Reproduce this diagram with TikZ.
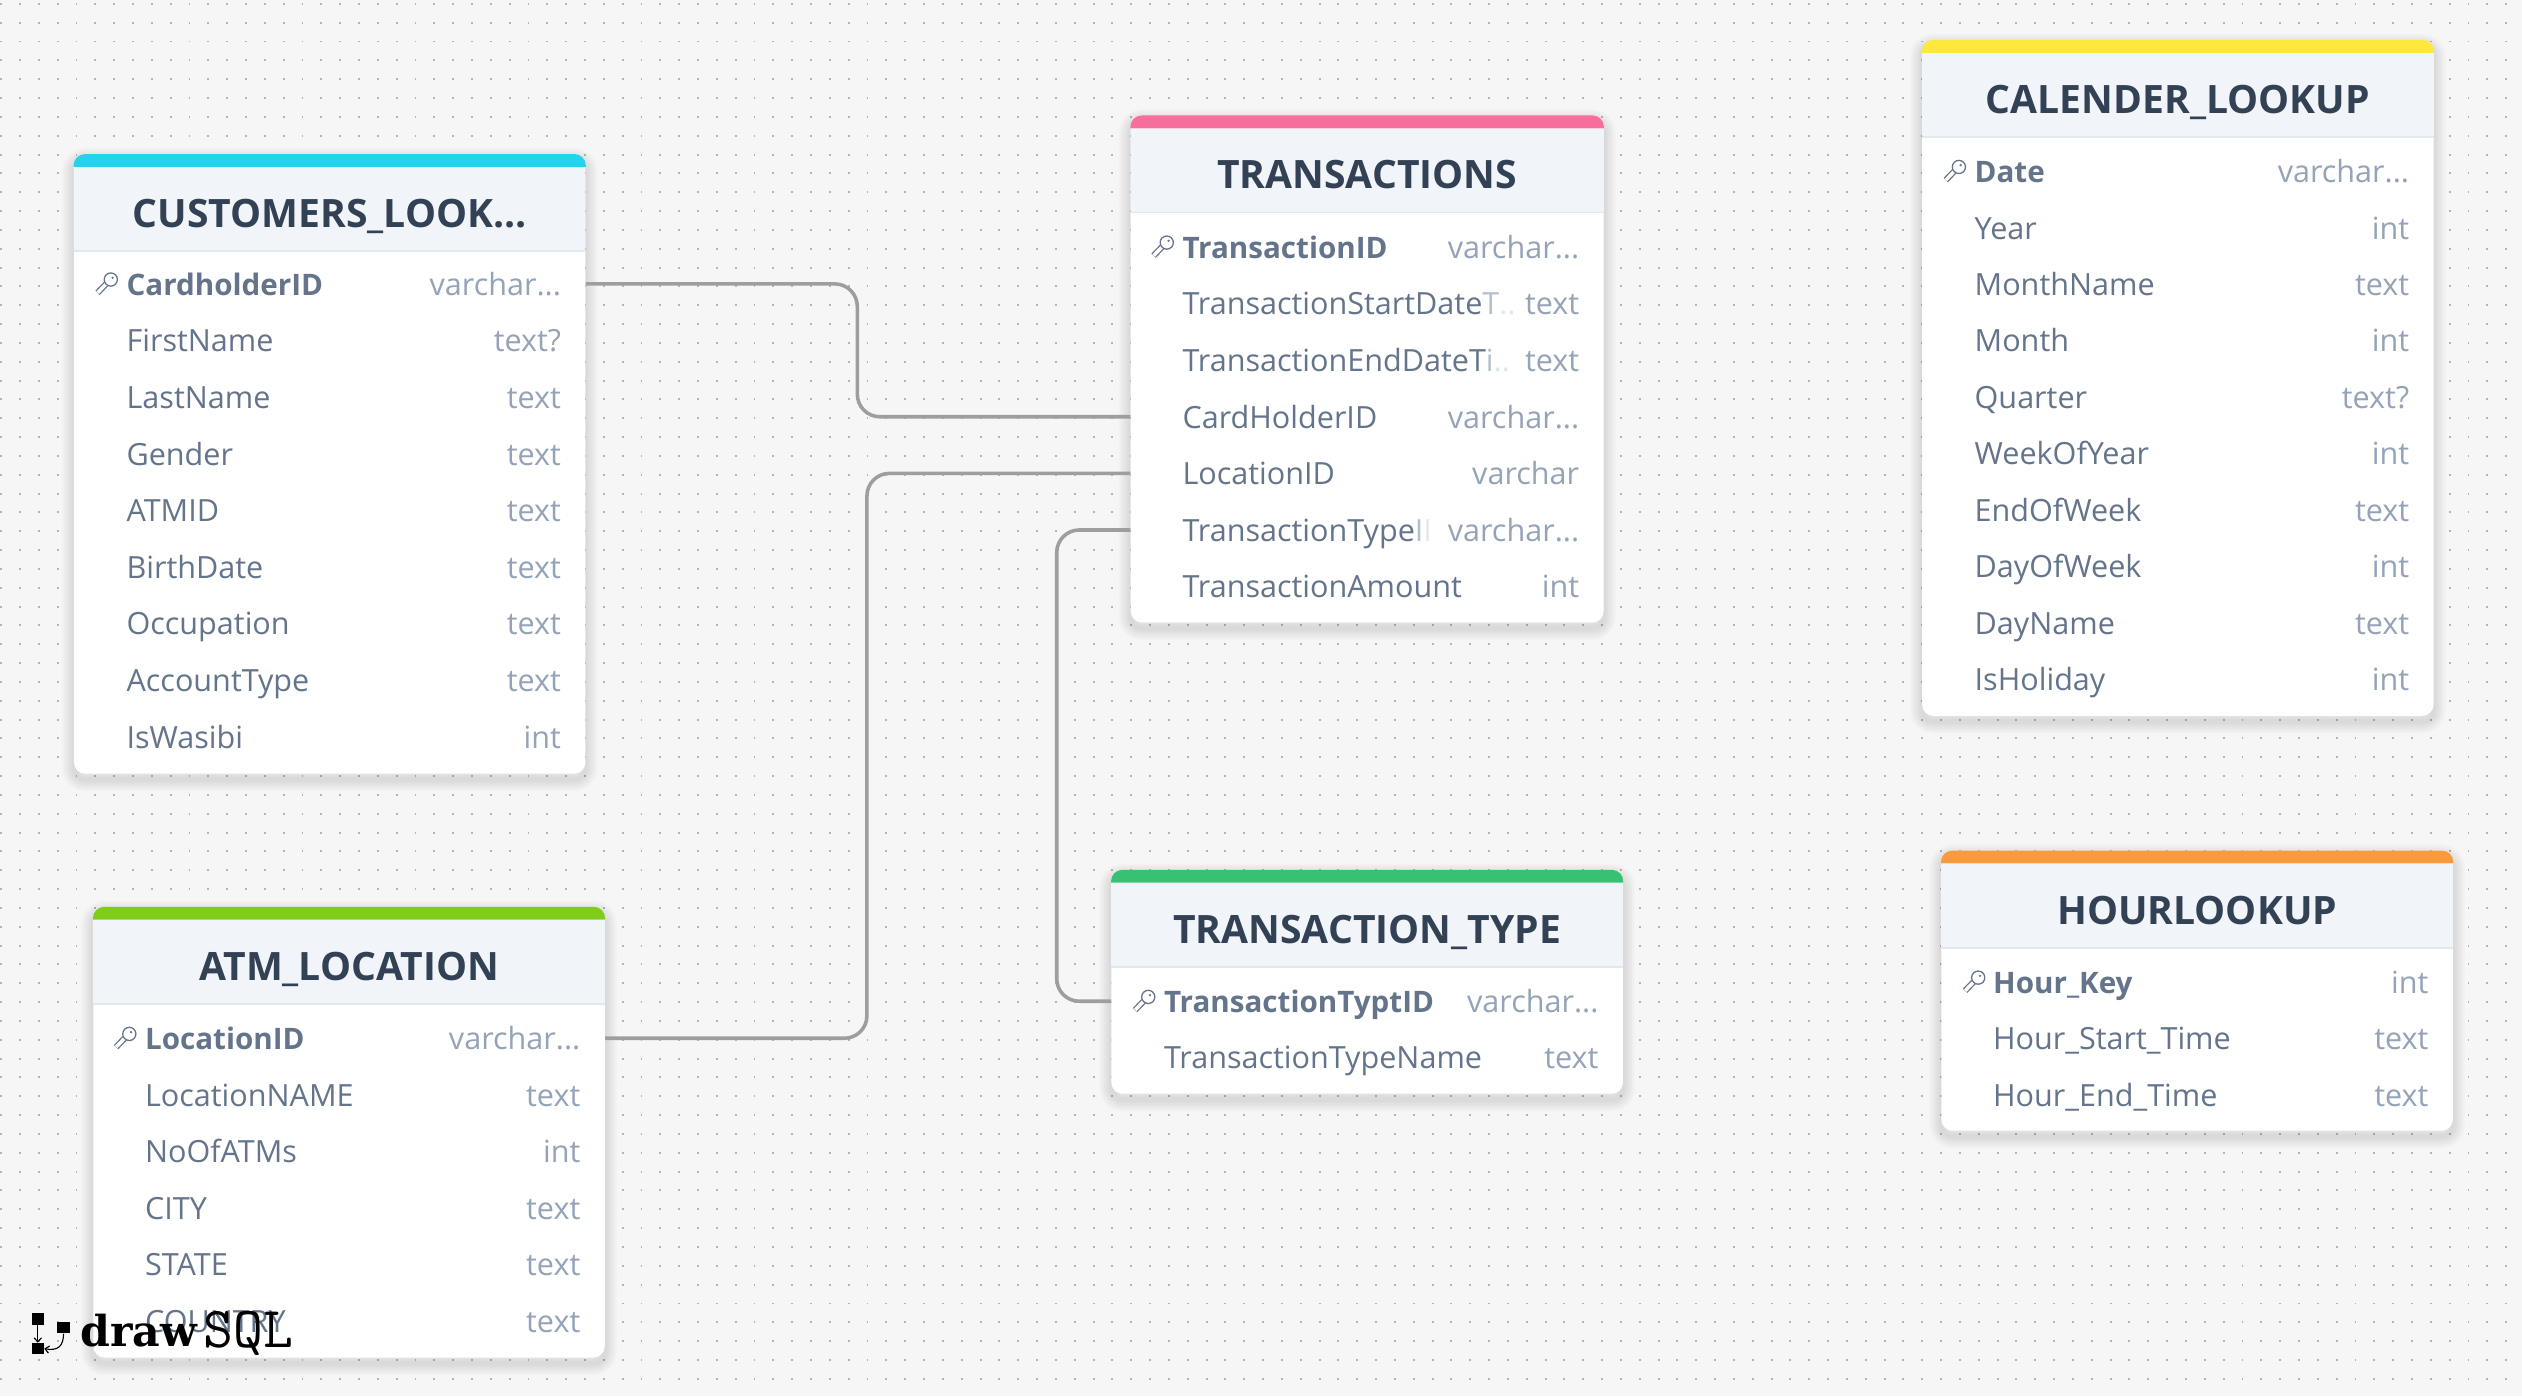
\documentclass[tikz,border=0pt]{standalone}
\usepackage{fontspec}
\setmainfont{Open Sans}
\setmonofont{Latin Modern Mono}
\newfontfamily\logofont{DejaVu Serif}
\usetikzlibrary{arrows, arrows.meta}

\definecolor{canvas}{HTML}{F6F6F6}
\definecolor{griddot}{HTML}{B4B4B4}
\definecolor{headfill}{HTML}{F1F5F9}
\definecolor{headline}{HTML}{E2E8F0}
\definecolor{titletext}{HTML}{334155}
\definecolor{nametext}{HTML}{64748B}
\definecolor{typetext}{HTML}{94A3B8}
\definecolor{fadeone}{HTML}{B4BFCC}
\definecolor{fadetwo}{HTML}{E2E7EC}
\definecolor{relline}{HTML}{9E9E9E}
\definecolor{barcust}{HTML}{22D3EE}
\definecolor{bartrans}{HTML}{F76D9C}
\definecolor{barcal}{HTML}{FFE83C}
\definecolor{baratm}{HTML}{7FCC1A}
\definecolor{bartype}{HTML}{38C172}
\definecolor{barhour}{HTML}{FA9A3F}

\tikzset{
  griddots/.style={griddot, line width=1.2pt, dash pattern=on 1.2pt off 10.51pt},
  softedge/.style={preaction={draw=black, draw opacity=0.014, line width=#1, transform canvas={yshift=-3.5pt}}},
  tablebody/.style={rectangle, fill=white, rounded corners=7pt, inner sep=0pt, minimum width=318pt,
    softedge=15pt, softedge=13pt, softedge=11pt, softedge=9pt, softedge=7pt, softedge=5pt, softedge=3pt},
  tablehead/.style={rectangle, fill=headfill, inner sep=0pt, minimum width=318pt, minimum height=52pt,
    text height=23pt, text depth=0pt, text=titletext, font=\fontsize{24.3}{24}\selectfont\bfseries},
  headrule/.style={headline, line width=1pt},
  rowname/.style={anchor=west, inner sep=0pt, text height=16pt, text depth=2pt, text=nametext, font=\fontsize{19}{19}\selectfont},
  rowkey/.style={rowname, font=\fontsize{18.4}{19}\selectfont\bfseries},
  rowtype/.style={anchor=east, inner sep=0pt, text height=16pt, text depth=2pt, text=typetext, font=\fontsize{19}{19}\selectfont},
  relation/.style={relline, line width=2.2pt, rounded corners=14pt},
  logosquare/.style={rectangle, fill=black, inner sep=0pt, minimum width=7.6pt, minimum height=7pt},
  logoarrow/.style={black, line width=0.7pt, -{Straight Barb[length=2.5pt, width=4.5pt]}},
  keyicon/.pic={
    \draw[nametext, line width=3.8pt] (-1,0) -- (-6.3,5.5);
    \draw[white, line width=2.2pt] (-1,0) -- (-6.2,5.4);
    \draw[nametext, line width=0.8pt, fill=white] (1.9,-2.7) circle (4.1pt);
    \fill[nametext] (3,-3.8) circle (0.8pt);
  }
}

\begin{document}
\begin{tikzpicture}[x=1pt, y=-1pt]
      \useasboundingbox (0,0) rectangle (1568,868);
      \fill[canvas] (0,0) rectangle (1568,868);
      \foreach \k in {0,...,73} {
        \draw[griddots] (0.1,{2.4+11.71*\k}) -- (1568,{2.4+11.71*\k});
      }

      % table bodies
      \node[tablebody, minimum height=385pt] (cBody) at (205,288.5) {};
      \node[tablebody, minimum height=315pt, minimum width=294pt] (tBody) at (850,229.5) {};
      \node[tablebody, minimum height=420pt] (kBody) at (1354,235) {};
      \node[tablebody, minimum height=280pt] (aBody) at (217,704) {};
      \node[tablebody, minimum height=139pt] (yBody) at (850,610.5) {};
      \node[tablebody, minimum height=174pt] (hBody) at (1366,616) {};

      % headers
      \node[tablehead] (cTitle) at (205,130) {CUSTOMERS\_LOOK...};
      \node[tablehead, minimum width=294pt] (tTitle) at (850,106) {TRANSACTIONS};
      \node[tablehead] (kTitle) at (1354,59) {CALENDER\_LOOKUP};
      \node[tablehead] (aTitle) at (217,598) {ATM\_LOCATION};
      \node[tablehead] (yTitle) at (850,575) {TRANSACTION\_TYPE};
      \node[tablehead] (hTitle) at (1366,563) {HOURLOOKUP};

      \draw[headrule] (cTitle.south west) -- (cTitle.south east);
      \draw[headrule] (tTitle.south west) -- (tTitle.south east);
      \draw[headrule] (kTitle.south west) -- (kTitle.south east);
      \draw[headrule] (aTitle.south west) -- (aTitle.south east);
      \draw[headrule] (yTitle.south west) -- (yTitle.south east);
      \draw[headrule] (hTitle.south west) -- (hTitle.south east);

      \fill[barcust] (cTitle.north west) [rounded corners=7pt] -- (cBody.north west) -- (cBody.north east) [sharp corners] -- (cTitle.north east) -- cycle;
      \fill[bartrans] (tTitle.north west) [rounded corners=7pt] -- (tBody.north west) -- (tBody.north east) [sharp corners] -- (tTitle.north east) -- cycle;
      \fill[barcal] (kTitle.north west) [rounded corners=7pt] -- (kBody.north west) -- (kBody.north east) [sharp corners] -- (kTitle.north east) -- cycle;
      \fill[baratm] (aTitle.north west) [rounded corners=7pt] -- (aBody.north west) -- (aBody.north east) [sharp corners] -- (aTitle.north east) -- cycle;
      \fill[bartype] (yTitle.north west) [rounded corners=7pt] -- (yBody.north west) -- (yBody.north east) [sharp corners] -- (yTitle.north east) -- cycle;
      \fill[barhour] (hTitle.north west) [rounded corners=7pt] -- (hBody.north west) -- (hBody.north east) [sharp corners] -- (hTitle.north east) -- cycle;

      % CUSTOMERS_LOOK...
      \pic at (67,176.5) {keyicon};
      \node[rowkey] (c1) at (78.5,176.5) {CardholderID};
      \node[rowtype] (c1t) at (349,176.5) {varchar...};
      \node[rowname] (c2) at (78.5,211.7) {FirstName};
      \node[rowtype] (c2t) at (349,211.7) {text?};
      \node[rowname] (c3) at (78.5,246.9) {LastName};
      \node[rowtype] (c3t) at (349,246.9) {text};
      \node[rowname] (c4) at (78.5,282.1) {Gender};
      \node[rowtype] (c4t) at (349,282.1) {text};
      \node[rowname] (c5) at (78.5,317.3) {ATMID};
      \node[rowtype] (c5t) at (349,317.3) {text};
      \node[rowname] (c6) at (78.5,352.5) {BirthDate};
      \node[rowtype] (c6t) at (349,352.5) {text};
      \node[rowname] (c7) at (78.5,387.7) {Occupation};
      \node[rowtype] (c7t) at (349,387.7) {text};
      \node[rowname] (c8) at (78.5,422.9) {AccountType};
      \node[rowtype] (c8t) at (349,422.9) {text};
      \node[rowname] (c9) at (78.5,458.1) {IsWasibi};
      \node[rowtype] (c9t) at (349,458.1) {int};

      % TRANSACTIONS
      \pic at (723.5,153.5) {keyicon};
      \node[rowkey] (t1) at (735,153.5) {TransactionID};
      \node[rowtype] (t1t) at (982,153.5) {varchar...};
      \node[rowname] (t2) at (735,188.7) {TransactionStartDate{\color{fadeone}T}{\color{fadetwo}..}};
      \node[rowtype] (t2t) at (982,188.7) {text};
      \node[rowname] (t3) at (735,223.9) {TransactionEndDateT{\color{fadeone}i}{\color{fadetwo}..}};
      \node[rowtype] (t3t) at (982,223.9) {text};
      \node[rowname] (t4) at (735,259.1) {CardHolderID};
      \node[rowtype] (t4t) at (982,259.1) {varchar...};
      \node[rowname] (t5) at (735,294.3) {LocationID};
      \node[rowtype] (t5t) at (982,294.3) {varchar};
      \node[rowname] (t6) at (735,329.5) {TransactionType{\color{fadeone}I}{\color{fadetwo}I}};
      \node[rowtype] (t6t) at (982,329.5) {varchar...};
      \node[rowname] (t7) at (735,364.7) {TransactionAmount};
      \node[rowtype] (t7t) at (982,364.7) {int};

      % CALENDER_LOOKUP
      \pic at (1216,106.5) {keyicon};
      \node[rowkey] (k1) at (1227.5,106.5) {Date};
      \node[rowtype] (k1t) at (1498,106.5) {varchar...};
      \node[rowname] (k2) at (1227.5,141.6) {Year};
      \node[rowtype] (k2t) at (1498,141.6) {int};
      \node[rowname] (k3) at (1227.5,176.7) {MonthName};
      \node[rowtype] (k3t) at (1498,176.7) {text};
      \node[rowname] (k4) at (1227.5,211.8) {Month};
      \node[rowtype] (k4t) at (1498,211.8) {int};
      \node[rowname] (k5) at (1227.5,246.9) {Quarter};
      \node[rowtype] (k5t) at (1498,246.9) {text?};
      \node[rowname] (k6) at (1227.5,282) {WeekOfYear};
      \node[rowtype] (k6t) at (1498,282) {int};
      \node[rowname] (k7) at (1227.5,317.1) {EndOfWeek};
      \node[rowtype] (k7t) at (1498,317.1) {text};
      \node[rowname] (k8) at (1227.5,352.2) {DayOfWeek};
      \node[rowtype] (k8t) at (1498,352.2) {int};
      \node[rowname] (k9) at (1227.5,387.3) {DayName};
      \node[rowtype] (k9t) at (1498,387.3) {text};
      \node[rowname] (k10) at (1227.5,422.4) {IsHoliday};
      \node[rowtype] (k10t) at (1498,422.4) {int};

      % ATM_LOCATION
      \pic at (78.5,645.5) {keyicon};
      \node[rowkey] (a1) at (90,645.5) {LocationID};
      \node[rowtype] (a1t) at (361,645.5) {varchar...};
      \node[rowname] (a2) at (90,680.7) {LocationNAME};
      \node[rowtype] (a2t) at (361,680.7) {text};
      \node[rowname] (a3) at (90,715.9) {NoOfATMs};
      \node[rowtype] (a3t) at (361,715.9) {int};
      \node[rowname] (a4) at (90,751.1) {CITY};
      \node[rowtype] (a4t) at (361,751.1) {text};
      \node[rowname] (a5) at (90,786.3) {STATE};
      \node[rowtype] (a5t) at (361,786.3) {text};
      \node[rowname] (a6) at (90,821.5) {COUNTRY};
      \node[rowtype] (a6t) at (361,821.5) {text};

      % TRANSACTION_TYPE
      \pic at (712,622.5) {keyicon};
      \node[rowkey] (y1) at (723.5,622.5) {TransactionTyptID};
      \node[rowtype] (y1t) at (994,622.5) {varchar...};
      \node[rowname] (y2) at (723.5,657.5) {TransactionTypeName};
      \node[rowtype] (y2t) at (994,657.5) {text};

      % HOURLOOKUP
      \pic at (1228,610.5) {keyicon};
      \node[rowkey] (h1) at (1239,610.5) {Hour\_Key};
      \node[rowtype] (h1t) at (1510,610.5) {int};
      \node[rowname] (h2) at (1239,645.7) {Hour\_Start\_Time};
      \node[rowtype] (h2t) at (1510,645.7) {text};
      \node[rowname] (h3) at (1239,680.9) {Hour\_End\_Time};
      \node[rowtype] (h3t) at (1510,680.9) {text};

      % relations
      \coordinate (bendA) at (533,0);
      \coordinate (bendB) at (539,0);
      \coordinate (bendC) at (657,0);
      \draw[relation] (cBody.east |- c1) -- (bendA |- c1) -- (bendA |- t4) -- (tBody.west |- t4);
      \draw[relation] (aBody.east |- a1) -- (bendB |- a1) -- (bendB |- t5) -- (tBody.west |- t5);
      \draw[relation] (yBody.west |- y1) -- (bendC |- y1) -- (bendC |- t6) -- (tBody.west |- t6);

      % logo
      \node[logosquare] (logoA) at (23.5,820) {};
      \node[logosquare] (logoB) at (39.5,825.5) {};
      \node[logosquare] (logoC) at (23.5,838.5) {};
      \draw[logoarrow] (logoA) -- (logoC);
      \draw[logoarrow] (logoB.south) .. controls (39.5,837) and (36,840) .. (logoC.east);
      \node[anchor=base west, inner sep=0pt, font=\logofont\fontsize{26.5}{27}\selectfont\bfseries] (logoDraw) at (50,837) {draw};
      \node[anchor=base west, inner sep=0pt, font=\ttfamily\fontsize{36}{36}\selectfont] (logoSql) at (126.5,837.5) {SQL};
    \end{tikzpicture}
\end{document}
